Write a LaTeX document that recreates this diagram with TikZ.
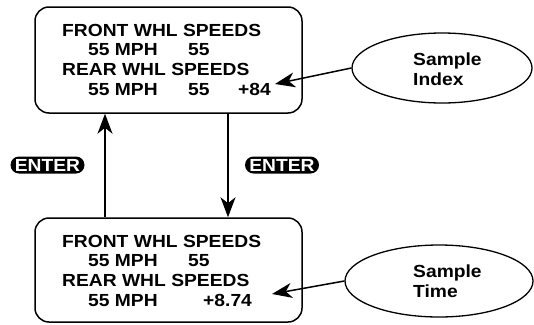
\documentclass[tikz,border=0pt]{standalone}
\usepackage{fontspec}
\newfontfamily\dispfont[FakeStretch=1.1]{Liberation Sans}
\usetikzlibrary{arrows.meta,shapes.geometric}
\newcommand{\panelfont}{\dispfont\bfseries\fontsize{17.5}{20}\selectfont}
\newcommand{\speedlines}[2]{
    \node[disp] (#1front) at (62,36+#2) {FRONT WHL SPEEDS};
    \node[disp] (#1fmph) at (88,55+#2) {55 MPH};
    \node[disp] (#1fval) at (188,55+#2) {55};
    \node[disp] (#1rear) at (62,75+#2) {REAR WHL SPEEDS};
    \node[disp] (#1rmph) at (88,95+#2) {55 MPH};
}
\tikzset{
    screen/.style={draw, line width=1.5pt, rounded corners=14pt, minimum width=267pt, minimum height=106pt, inner sep=0pt},
    disp/.style={font=\panelfont, inner sep=0pt, anchor=base west},
    enterkey/.style={fill=black, text=white, rounded corners=8.5pt, minimum width=74pt, minimum height=17pt, inner sep=0pt, font=\panelfont},
    oval/.style={draw, ellipse, line width=1.3pt, inner sep=0pt},
    flow/.style={line width=1.5pt, -{Stealth[length=20pt,width=15pt,inset=6pt]}},
}

\begin{document}
\begin{tikzpicture}[x=1pt,y=-1pt]
    \useasboundingbox (0,0) rectangle (534,324);
    \node[screen] (scrA) at (168.5,60) {};
    \node[screen, minimum height=104pt] (scrB) at (168.5,270) {};
    \speedlines{a}{0}
    \node[disp] (arval) at (188,95) {55};
    \node[disp] (aidx) at (238,95) {+84};
    \speedlines{b}{211}
    \node[disp] (btime) at (203,306) {+8.74};
    % ovals
    \node[oval, minimum width=180pt, minimum height=70pt] (idxOval) at (442,68) {};
    \node[disp, align=left] (idxTxt) at (413,85) {Sample\\Index};
    \node[oval, minimum width=188pt, minimum height=72pt] (timeOval) at (439,281) {};
    \node[disp, align=left] (timeTxt) at (413,297) {Sample\\Time};
    % keys
    \node[enterkey] (entA) at (47.5,165) {ENTER};
    \node[enterkey] (entB) at (282,165) {ENTER};
    \draw[flow] ([xshift=-63.5pt]scrB.north) -- ([xshift=-63.5pt]scrA.south);
    \draw[flow] ([xshift=59.5pt]scrA.south) -- ([xshift=59.5pt]scrB.north);
    \coordinate (idxTip) at (275,84);
    \coordinate (timeTip) at (272,294);
    \draw[flow] (idxOval.west) -- (idxTip);
    \draw[flow] (timeOval.west) -- (timeTip);
\end{tikzpicture}
\end{document}
